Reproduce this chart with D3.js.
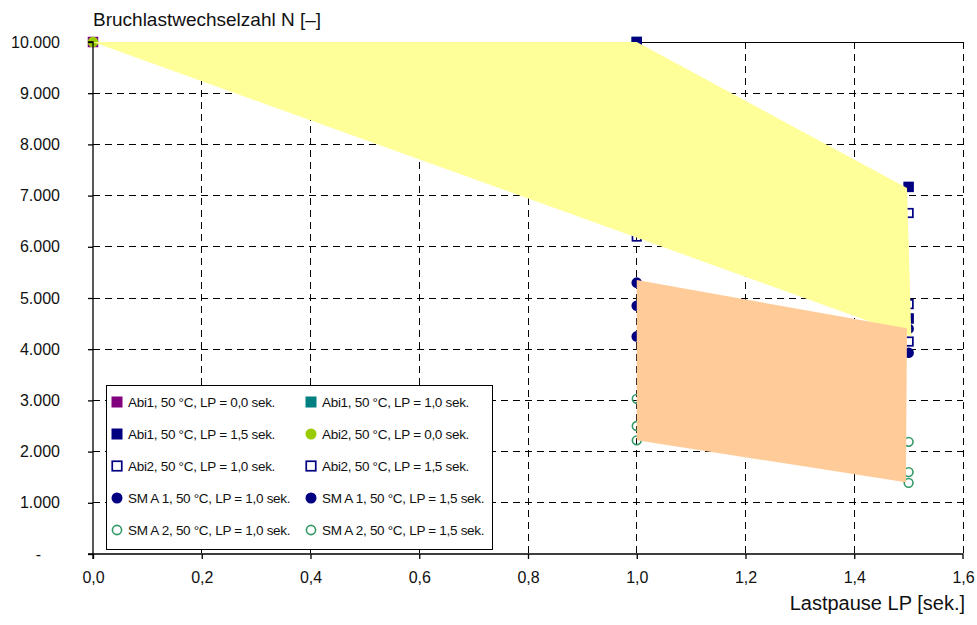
<!DOCTYPE html>
<html>
<head>
<meta charset="utf-8">
<script src="https://cdn.jsdelivr.net/npm/d3@7"></script>
<style>
  html, body { margin: 0; padding: 0; background: #fff; }
  svg { display: block; font-family: "Liberation Sans", Arial, sans-serif; }
</style>
</head>
<body>
<svg id="chart" width="977" height="625"></svg>
<script>
// ---- data ----
const xTicks = [0, 0.2, 0.4, 0.6, 0.8, 1.0, 1.2, 1.4, 1.6];
const yTicks = [0, 1000, 2000, 3000, 4000, 5000, 6000, 7000, 8000, 9000, 10000];
const yTickLabels = ["-", "1.000", "2.000", "3.000", "4.000", "5.000", "6.000", "7.000", "8.000", "9.000", "10.000"];
const xTickLabels = ["0,0", "0,2", "0,4", "0,6", "0,8", "1,0", "1,2", "1,4", "1,6"];

const seriesNames = [
  "Abi1, 50 °C, LP = 0,0 sek.", "Abi1, 50 °C, LP = 1,0 sek.",
  "Abi1, 50 °C, LP = 1,5 sek.", "Abi2, 50 °C, LP = 0,0 sek.",
  "Abi2, 50 °C, LP = 1,0 sek.", "Abi2, 50 °C, LP = 1,5 sek.",
  "SM A 1, 50 °C, LP = 1,0 sek.", "SM A 1, 50 °C, LP = 1,5 sek.",
  "SM A 2, 50 °C, LP = 1,0 sek.", "SM A 2, 50 °C, LP = 1,5 sek."
];
const seriesX = [
  [0.0], [1.0], [1.0, 1.5, 1.5], [0.0],
  [1.0], [1.5, 1.5, 1.5],
  [1.0, 1.0, 1.0], [1.5, 1.5],
  [1.0, 1.0, 1.0], [1.5, 1.5, 1.5]
];
const seriesY = [
  [10000], [10000], [10000, 7170, 4600], [10000],
  [6200], [6660, 4880, 4150],
  [5300, 4850, 4250], [4400, 3930],
  [3030, 2500, 2220], [2190, 1600, 1390]
];
const seriesShape = ["square", "square", "square", "circle", "square", "square", "circle", "circle", "circle", "circle"];
const seriesFill = ["#800080", "#008080", "#000080", "#99CC00", "none", "none", "#000080", "#000080", "none", "none"];
const seriesStroke = ["#800080", "#008080", "#000080", "#99CC00", "#000080", "#000080", "#000080", "#000080", "#339966", "#339966"];

// scatter band polygons (x, y)
const yellowX = [0.0, 1.0, 1.497, 1.505];
const yellowY = [10000, 10000, 7150, 4250];
const orangeX = [1.0, 1.497, 1.495, 1.0];
const orangeY = [5350, 4410, 1400, 2220];

// ---- layout ----
const svg = d3.select("#chart");
const mLeft = 93, mRight = 963, mTop = 42, mBottom = 554;
const x = d3.scaleLinear().domain([0, 1.6]).range([mLeft, mRight]);
const y = d3.scaleLinear().domain([0, 10000]).range([mBottom, mTop]);

// grid
const grid = svg.append("g");
grid.selectAll("line.h").data(yTicks.slice(1)).join("line")
  .attr("x1", mLeft).attr("x2", mRight)
  .attr("y1", d => y(d)).attr("y2", d => y(d))
  .attr("stroke", "#000").attr("stroke-width", 1)
  .attr("stroke-dasharray", d => d === 10000 ? null : "7,5")
  .attr("shape-rendering", "crispEdges");
grid.selectAll("line.v").data(xTicks.slice(1)).join("line")
  .attr("y1", mTop).attr("y2", mBottom)
  .attr("x1", d => x(d)).attr("x2", d => x(d))
  .attr("stroke", "#000").attr("stroke-width", 1)
  .attr("stroke-dasharray", "7,5")
  .attr("shape-rendering", "crispEdges");

// markers
const mk = svg.append("g");
seriesNames.forEach((name, i) => {
  const pts = seriesX[i].map((vx, j) => [vx, seriesY[i][j]]);
  const open = seriesFill[i] === "none";
  if (seriesShape[i] === "square") {
    const s = open ? 8.5 : 10.5;
    mk.selectAll(null).data(pts).join("rect")
      .attr("x", d => x(d[0]) - s / 2).attr("y", d => y(d[1]) - s / 2)
      .attr("width", s).attr("height", s)
      .attr("fill", open ? "#fff" : seriesFill[i])
      .attr("fill-opacity", open ? 0 : 1)
      .attr("stroke", seriesStroke[i]).attr("stroke-width", open ? 1.7 : 0);
  } else {
    const r = open ? 4.4 : 5.3;
    mk.selectAll(null).data(pts).join("circle")
      .attr("cx", d => x(d[0])).attr("cy", d => y(d[1])).attr("r", r)
      .attr("fill", open ? "none" : seriesFill[i])
      .attr("stroke", seriesStroke[i]).attr("stroke-width", open ? 1.6 : 0);
  }
});

// polygons (drawn above markers as in the reference)
const line = d3.line().x(d => x(d[0])).y(d => y(d[1]));
svg.append("path")
  .attr("d", line(yellowX.map((v, i) => [v, yellowY[i]])) + "Z")
  .attr("fill", "#FFFF99");
svg.append("path")
  .attr("d", line(orangeX.map((v, i) => [v, orangeY[i]])) + "Z")
  .attr("fill", "#FFCC99");

// axes
const yAxis = d3.axisLeft(y).tickValues(yTicks).tickFormat((d, i) => yTickLabels[i]).tickSize(5).tickPadding(28);
const xAxis = d3.axisBottom(x).tickValues(xTicks).tickFormat((d, i) => xTickLabels[i]).tickSize(5).tickPadding(13);
const ga = svg.append("g").attr("transform", `translate(${mLeft},0)`).call(yAxis);
const gb = svg.append("g").attr("transform", `translate(0,${mBottom})`).call(xAxis);
[ga, gb].forEach(g => {
  g.select(".domain").attr("stroke", "#000").attr("stroke-width", 1.3);
  g.selectAll(".tick line").attr("stroke", "#000").attr("stroke-width", 1.3);
  g.selectAll(".tick text").attr("fill", "#111").attr("font-size", 16)
    .attr("font-family", "'Liberation Sans', Arial, sans-serif");
});
ga.select(".domain").attr("d", `M-5,${mTop}H0V${mBottom}H-5`);
gb.select(".domain").attr("d", `M${mLeft},5V0H${mRight}V5`);
gb.selectAll(".tick").filter(d => d === 1.6).select("line").remove();
// zero label sits further left (accounting-style format)
ga.selectAll(".tick").filter(d => d === 0).select("text").attr("x", -52);

// axis titles
svg.append("text").attr("x", mLeft).attr("y", 26)
  .attr("font-size", 19).attr("fill", "#111")
  .text("Bruchlastwechselzahl N [–]");
svg.append("text").attr("x", 965).attr("y", 610).attr("text-anchor", "end")
  .attr("font-size", 20).attr("fill", "#111")
  .text("Lastpause LP [sek.]");

// legend
const lg = svg.append("g");
lg.append("rect").attr("x", 106.5).attr("y", 385.5).attr("width", 386).attr("height", 164)
  .attr("fill", "#fff").attr("stroke", "#000").attr("stroke-width", 1);
const colX = [117, 311];
const rowY = [402, 434, 466, 498, 530];
seriesNames.forEach((name, i) => {
  const cx = colX[i % 2], cy = rowY[Math.floor(i / 2)];
  const open = seriesFill[i] === "none";
  if (seriesShape[i] === "square") {
    const s = open ? 9.5 : 11;
    lg.append("rect").attr("x", cx - s / 2).attr("y", cy - s / 2).attr("width", s).attr("height", s)
      .attr("fill", open ? "#fff" : seriesFill[i])
      .attr("stroke", seriesStroke[i]).attr("stroke-width", open ? 1.7 : 0);
  } else {
    lg.append("circle").attr("cx", cx).attr("cy", cy).attr("r", open ? 4.6 : 5.5)
      .attr("fill", open ? "#fff" : seriesFill[i])
      .attr("stroke", seriesStroke[i]).attr("stroke-width", open ? 1.6 : 0);
  }
  lg.append("text").attr("x", cx + 11).attr("y", cy + 5)
    .attr("font-size", 13.5).attr("letter-spacing", -0.3).attr("fill", "#111")
    .text(name);
});
</script>
</body>
</html>
